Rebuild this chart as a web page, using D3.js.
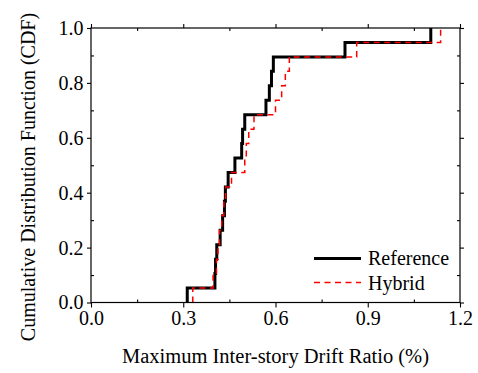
<!DOCTYPE html>
<html>
<head>
<meta charset="utf-8">
<script src="https://cdn.jsdelivr.net/npm/d3@7"></script>
<style>
  html, body { margin: 0; padding: 0; background: #fff; }
  svg { display: block; }
</style>
</head>
<body>
<svg id="chart" width="478" height="373"></svg>
<script>
// ---- data ----
const seriesNames = ["Reference", "Hybrid"];
const referenceDrift = [0.313, 0.403, 0.405, 0.409, 0.420, 0.428, 0.434, 0.437, 0.446, 0.468,
                        0.490, 0.493, 0.500, 0.569, 0.580, 0.587, 0.593, 0.826, 1.105];
const hybridDrift    = [0.331, 0.397, 0.408, 0.413, 0.418, 0.425, 0.432, 0.438, 0.457, 0.500,
                        0.505, 0.513, 0.530, 0.600, 0.620, 0.632, 0.645, 0.864, 1.137];
const xMajorTicks = [0.0, 0.3, 0.6, 0.9, 1.2];
const xMinorTicks = [0.15, 0.45, 0.75, 1.05];
const yMajorTicks = [0.0, 0.2, 0.4, 0.6, 0.8, 1.0];
const yMinorTicks = [0.1, 0.3, 0.5, 0.7, 0.9];
const xTitle = "Maximum Inter-story Drift Ratio (%)";
const yTitle = "Cumulative Distribution Function (CDF)";

// ---- layout ----
const L = 91, R = 460, T = 28, B = 302.5;
const FONT = "'Liberation Serif'";
const FS = 20;
const svg = d3.select("#chart");
const x = d3.scaleLinear().domain([0, 1.2]).range([L, R]);
const y = d3.scaleLinear().domain([0, 1]).range([B, T]);
const fmt = d3.format(".1f");

function styleAxis(g) {
  g.attr("font-family", null).attr("font-size", null);
  g.selectAll(".domain").remove();
  g.selectAll(".tick line").attr("stroke", "#000").attr("stroke-width", 1.1);
  g.selectAll("text").style("font-family", FONT).style("font-size", FS + "px").attr("fill", "#000");
}

// major ticks outward, minor inward
svg.append("g").attr("transform", `translate(0,${B})`)
  .call(d3.axisBottom(x).tickValues(xMajorTicks).tickSize(5).tickPadding(3).tickFormat(fmt))
  .call(styleAxis);
svg.append("g").attr("transform", `translate(0,${B})`)
  .call(d3.axisBottom(x).tickValues(xMinorTicks).tickSize(-3).tickFormat(""))
  .call(styleAxis);
svg.append("g").attr("transform", `translate(0,${T})`)
  .call(d3.axisTop(x).tickValues(xMajorTicks).tickSize(4).tickFormat(""))
  .call(styleAxis);
svg.append("g").attr("transform", `translate(0,${T})`)
  .call(d3.axisTop(x).tickValues(xMinorTicks).tickSize(-3).tickFormat(""))
  .call(styleAxis);

svg.append("g").attr("transform", `translate(${L},0)`)
  .call(d3.axisLeft(y).tickValues(yMajorTicks).tickSize(4).tickPadding(3.5).tickFormat(fmt))
  .call(styleAxis);
svg.append("g").attr("transform", `translate(${L},0)`)
  .call(d3.axisLeft(y).tickValues(yMinorTicks).tickSize(-3).tickFormat(""))
  .call(styleAxis);
svg.append("g").attr("transform", `translate(${R},0)`)
  .call(d3.axisRight(y).tickValues(yMajorTicks).tickSize(4).tickFormat(""))
  .call(styleAxis);
svg.append("g").attr("transform", `translate(${R},0)`)
  .call(d3.axisRight(y).tickValues(yMinorTicks).tickSize(-3).tickFormat(""))
  .call(styleAxis);

// ---- step CDF lines ----
function cdfPoints(vals) {
  const s = vals.slice().sort((a, b) => a - b);
  const n = s.length;
  const pts = [[s[0], 0]];
  s.forEach((v, i) => pts.push([v, (i + 1) / n]));
  return pts;
}
const line = d3.line().x(d => x(d[0])).y(d => y(d[1])).curve(d3.curveStepAfter);

svg.append("path").datum(cdfPoints(referenceDrift))
  .attr("d", line).attr("fill", "none").attr("stroke", "#000").attr("stroke-width", 3);
svg.append("path").datum(cdfPoints(hybridDrift))
  .attr("d", line).attr("fill", "none").attr("stroke", "#ff0000").attr("stroke-width", 1.5)
  .attr("stroke-dasharray", "6,4.5");

// frame
svg.append("rect").attr("x", L).attr("y", T).attr("width", R - L).attr("height", B - T)
  .attr("fill", "none").attr("stroke", "#000").attr("stroke-width", 1.2);

// ---- titles ----
svg.append("text").attr("x", (L + R) / 2).attr("y", 363).attr("text-anchor", "middle")
  .style("font-family", FONT).style("font-size", "20.5px").attr("fill", "#000").text(xTitle);
svg.append("text").attr("transform", `translate(35,177) rotate(-90)`).attr("text-anchor", "middle")
  .style("font-family", FONT).style("font-size", "20px").attr("fill", "#000").text(yTitle);

// ---- legend ----
const legend = svg.append("g");
const legendRows = [
  { name: seriesNames[0], color: "#000", width: 3, dash: null, ly: 258.5, ty: 265 },
  { name: seriesNames[1], color: "#ff0000", width: 1.5, dash: "6,4.5", ly: 282.5, ty: 290 }
];
legendRows.forEach(r => {
  legend.append("line").attr("x1", 314).attr("x2", 361).attr("y1", r.ly).attr("y2", r.ly)
    .attr("stroke", r.color).attr("stroke-width", r.width)
    .attr("stroke-dasharray", r.dash);
  legend.append("text").attr("x", 368).attr("y", r.ty)
    .style("font-family", FONT).style("font-size", FS + "px").attr("fill", "#000").text(r.name);
});
</script>
</body>
</html>
